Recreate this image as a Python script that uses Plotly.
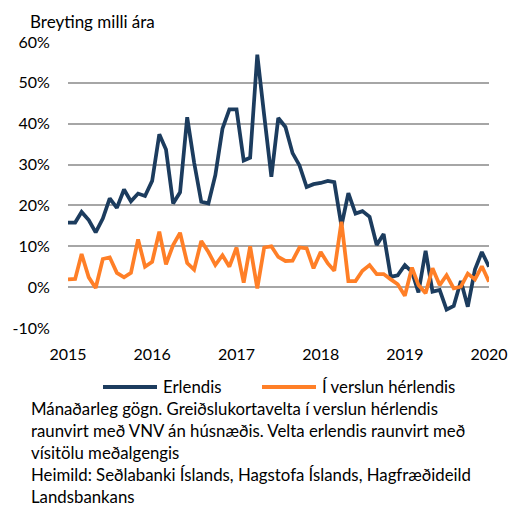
import plotly.graph_objects as go
import pandas as pd

months = pd.date_range("2015-01-01", "2020-01-01", freq="MS").strftime("%Y-%m-%d").tolist()

erlendis = [15.8, 15.8, 18.4, 16.4, 13.4, 16.8, 21.7, 19.4, 23.9, 21.0, 22.9, 22.3,
            26.0, 37.4, 33.7, 20.5, 23.2, 41.6, 30.5, 20.9, 20.5, 27.4, 38.8, 43.5,
            43.5, 31.0, 31.7, 56.9, 42.0, 27.0, 41.4, 39.2, 32.8, 29.8, 24.5, 25.2,
            25.5, 26.0, 25.7, 15.0, 23.0, 18.0, 18.6, 17.2, 10.3, 13.0, 2.5, 2.9,
            5.4, 3.7, -1.3, 8.9, -1.1, -0.7, -5.5, -4.6, 1.5, -4.8, 4.3, 8.6, 5.0]

herlendis = [1.9, 2.0, 8.1, 2.4, -0.2, 6.9, 7.3, 3.5, 2.4, 3.5, 11.7, 5.0,
             6.2, 13.6, 5.6, 10.3, 13.3, 5.9, 4.3, 11.3, 8.6, 5.4, 7.8, 5.0,
             9.7, 1.1, 10.0, -0.3, 9.7, 10.0, 7.4, 6.4, 6.5, 9.7, 9.5, 4.6,
             8.6, 5.8, 4.0, 16.0, 1.5, 1.5, 4.0, 5.4, 3.2, 3.2, 1.9, 0.7,
             -2.1, 4.8, 0.5, -1.5, 4.6, 0.5, 2.9, -0.3, 0.1, 3.3, 1.9, 5.1, 1.3]

series_names = ["Erlendis", "Í verslun hérlendis"]
y_tickvals = [-10, 0, 10, 20, 30, 40, 50, 60]
y_ticktext = ["-10%", "0%", "10%", "20%", "30%", "40%", "50%", "60%"]
x_range = ["2015-01-01", "2020-01-01"]
y_title = "Breyting milli ára"
footer_lines = [
    "Mánaðarleg gögn. Greiðslukortavelta í verslun hérlendis",
    "raunvirt með VNV án húsnæðis. Velta erlendis raunvirt með",
    "vísitölu meðalgengis",
    "Heimild: Seðlabanki Íslands, Hagstofa Íslands, Hagfræðideild",
    "Landsbankans",
]

# page has an 8px body margin; figure is sized to fit the 519x506 window
OFF = 8
W, H = 519 - OFF, 506 - OFF
L, R, T, B = 60, 30, 34, 178
FONT = "Lato"
DARK = "#1c3c5e"
ORANGE = "#ff7f27"
GRID = "#a6a6a6"
colors = [DARK, ORANGE]


def py(pix):
    return (H - B - (pix - OFF)) / (H - T - B)


def px(pix):
    return (pix - OFF - L) / (W - L - R)


fig = go.Figure()
for name, vals, col in zip(series_names, [erlendis, herlendis], colors):
    fig.add_trace(go.Scatter(x=months, y=vals, name=name, mode="lines",
                             line=dict(color=col, width=3.75), showlegend=False))

zero_pos = (0 - y_tickvals[0]) / (y_tickvals[-1] - y_tickvals[0])

fig.update_layout(
    width=W, height=H,
    margin=dict(l=L, r=R, t=T, b=B, autoexpand=False),
    paper_bgcolor="white", plot_bgcolor="white",
    font=dict(family=FONT, size=16, color="#000"),
    xaxis=dict(type="date", range=x_range, dtick="M12", tick0="2015-01-01",
               tickformat="%Y", showgrid=False, zeroline=False, showline=False,
               ticks="outside", ticklen=12, tickcolor="rgba(0,0,0,0)",
               tickfont=dict(size=16)),
    xaxis2=dict(type="date", range=x_range, dtick="M12", tick0="2015-01-01",
                overlaying="x", anchor="free", position=zero_pos,
                showgrid=False, zeroline=False, showline=True, linecolor=GRID,
                linewidth=1.5, ticks="outside", ticklen=5, tickcolor=GRID,
                tickwidth=1.5, showticklabels=False),
    yaxis=dict(range=[y_tickvals[0], y_tickvals[-1]], tickvals=y_tickvals,
               ticktext=y_ticktext, showgrid=True, gridcolor=GRID, gridwidth=1.5,
               zeroline=False, showline=False, ticks="outside", ticklen=14,
               tickcolor="rgba(0,0,0,0)", tickfont=dict(size=16)),
    showlegend=False,
)

# legend (drawn manually to match the longer key lines)
legend_items = [(103, 157, 161), (262, 316, 320)]
for (x0, x1, xt), name, col in zip(legend_items, series_names, colors):
    fig.add_shape(type="line", xref="paper", yref="paper", x0=px(x0), x1=px(x1),
                  y0=py(387), y1=py(387), line=dict(color=col, width=4))
    fig.add_annotation(text=name, xref="paper", yref="paper", x=px(xt), y=py(386),
                       xanchor="left", yanchor="middle", showarrow=False,
                       font=dict(size=16.8))

fig.add_annotation(text=y_title, xref="paper", yref="paper", x=px(28), y=py(21),
                   xanchor="left", yanchor="middle", showarrow=False,
                   font=dict(size=17))

footer_y = [408, 430, 452, 474, 496]
for line, yy in zip(footer_lines, footer_y):
    fig.add_annotation(text=line, xref="paper", yref="paper", x=px(29), y=py(yy),
                       xanchor="left", yanchor="middle", showarrow=False,
                       font=dict(size=16.8))

fig.write_html("out.html")
